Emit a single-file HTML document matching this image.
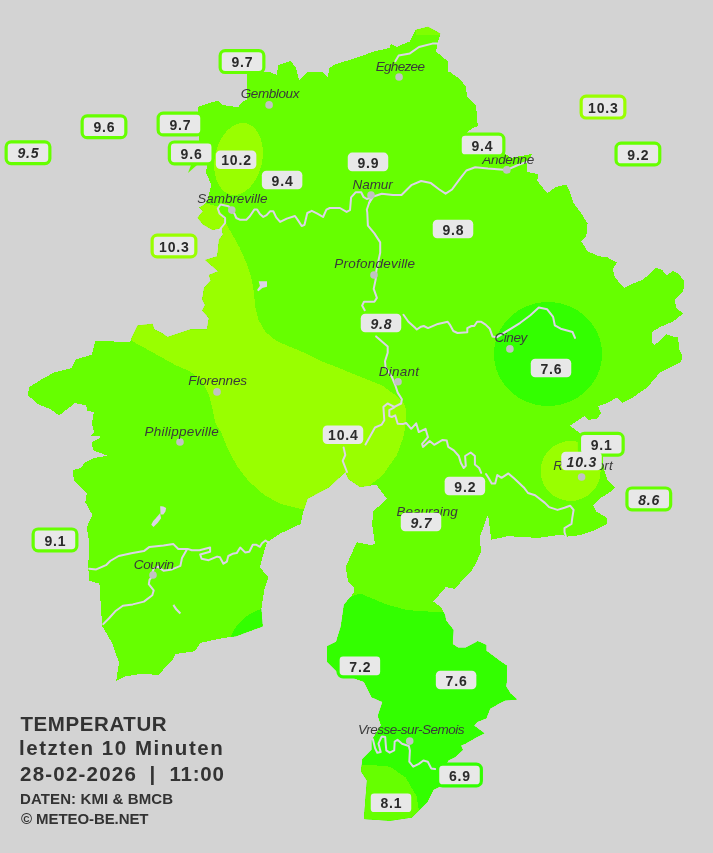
<!DOCTYPE html>
<html><head><meta charset="utf-8"><style>
html,body{margin:0;padding:0;width:713px;height:853px;overflow:hidden;background:#d3d3d3;position:relative}
</style></head><body>
<svg width="713" height="853" viewBox="0 0 713 853" style="position:absolute;left:0;top:0;will-change:transform"><defs><clipPath id="prov"><polygon points="198.0,107.0 212.0,102.0 218.0,101.0 222.0,104.8 238.0,107.3 241.7,102.3 246.5,100.0 246.5,73.0 270.0,72.0 277.0,75.0 278.0,65.0 291.0,61.0 296.0,68.0 299.0,80.0 308.0,72.0 322.0,72.0 328.0,78.0 329.0,68.0 336.0,64.0 356.0,58.0 374.0,51.4 389.8,48.0 391.0,43.6 396.5,47.0 410.0,41.3 415.6,30.0 428.0,26.7 440.3,33.5 438.0,42.4 435.8,51.4 448.0,61.5 448.0,71.6 450.0,72.0 461.0,80.0 466.0,87.0 467.0,97.0 476.0,105.0 477.8,126.0 471.5,128.8 466.0,133.0 490.0,148.0 504.3,152.8 510.6,157.9 532.0,154.0 527.0,163.0 527.0,171.8 538.4,174.3 537.1,180.6 547.2,193.2 556.0,187.0 566.1,184.4 570.0,192.0 573.7,203.3 581.3,213.4 587.6,223.5 586.3,236.1 581.3,241.2 587.6,251.3 599.0,256.3 607.4,257.4 616.9,262.7 612.7,269.0 614.8,277.4 624.3,288.0 632.7,283.7 643.3,279.5 655.9,267.9 662.2,270.0 666.5,275.3 672.8,271.1 678.1,273.2 684.4,281.6 683.3,291.1 674.9,299.6 676.0,308.0 683.3,313.3 672.8,321.7 660.1,327.0 651.7,332.2 651.7,342.8 654.9,344.9 666.5,334.4 672.8,336.5 678.1,336.5 679.1,349.1 682.3,355.4 681.2,361.8 668.6,368.1 660.1,372.3 647.5,387.1 632.7,397.6 622.2,402.9 616.9,397.6 605.3,404.0 597.9,406.0 601.1,413.4 596.9,418.7 588.4,419.8 584.3,416.3 570.0,425.8 575.6,429.8 590.0,442.0 602.5,456.0 604.1,470.2 607.3,479.7 615.2,487.6 612.0,490.8 607.3,494.0 599.4,498.7 593.0,505.0 596.2,511.4 604.1,516.1 607.3,519.3 606.5,524.1 594.6,530.4 580.3,535.2 566.1,536.7 562.0,534.5 538.4,537.9 508.0,536.2 491.3,539.6 488.0,514.3 479.5,537.9 481.2,551.4 476.0,563.0 471.0,571.6 461.0,581.7 455.0,589.0 445.8,587.0 433.4,601.6 441.3,607.5 445.0,615.0 446.0,620.6 453.5,630.0 452.5,644.0 458.1,647.8 465.6,647.8 477.8,641.3 486.3,645.0 486.3,650.7 501.3,661.9 506.9,665.7 506.9,680.7 506.0,686.3 510.7,693.8 517.2,699.4 505.0,700.4 499.4,703.2 490.0,708.8 486.3,718.2 476.9,722.0 474.1,725.7 484.4,733.2 476.9,737.0 465.6,743.5 461.0,745.4 462.8,750.1 454.4,757.6 448.8,760.0 442.0,770.0 439.6,786.7 433.4,789.8 427.2,802.2 411.8,817.6 390.2,820.7 364.0,819.0 365.5,799.0 367.0,780.6 361.0,771.3 362.5,759.0 371.7,749.7 371.7,740.4 381.0,725.0 377.9,715.8 382.5,701.9 371.7,697.2 364.0,681.8 337.8,672.6 327.0,661.8 327.0,646.3 336.2,641.7 340.9,626.3 344.0,604.7 354.0,592.7 354.0,587.0 348.3,581.5 345.5,567.4 356.7,542.2 370.7,545.0 375.0,544.0 372.0,524.0 373.5,511.0 387.0,499.0 376.4,484.7 360.0,487.0 348.3,479.0 345.5,472.0 328.7,487.5 307.6,498.7 303.4,511.3 300.6,524.0 279.6,533.8 267.0,542.2 262.7,556.2 260.0,567.4 268.4,577.3 264.2,590.0 261.3,609.5 262.7,626.4 236.1,636.2 220.0,638.6 200.6,642.8 195.0,651.2 175.3,654.0 172.5,659.7 158.4,675.0 141.6,673.7 124.7,676.5 116.2,680.8 119.0,662.5 112.0,642.8 102.2,626.0 99.4,583.7 89.5,580.9 88.1,566.9 89.5,544.4 86.7,527.5 92.3,514.8 85.3,502.2 86.7,493.7 74.0,481.0 72.7,470.0 80.6,468.1 85.0,462.5 94.0,458.0 107.5,455.8 93.0,450.2 91.8,442.3 101.9,436.7 90.7,435.6 94.0,432.2 91.8,423.2 94.0,412.0 87.3,410.9 86.2,405.3 75.0,403.0 59.3,415.4 49.2,408.6 38.0,404.2 27.9,395.2 29.0,387.3 41.3,379.5 53.7,372.7 71.6,368.2 76.1,359.3 91.8,354.8 95.2,341.3 110.9,341.3 130.0,342.4 131.1,339.0 137.5,325.6 152.5,323.8 154.4,329.4 161.9,333.0 167.5,336.9 190.0,329.4 206.9,329.4 208.8,318.0 202.2,310.6 205.0,305.0 202.2,299.4 204.0,288.0 210.6,280.6 208.8,275.0 218.1,271.3 205.0,260.0 217.2,256.3 219.0,239.4 222.8,234.7 221.9,228.0 212.5,230.0 203.0,224.4 197.5,217.8 203.0,211.0 199.4,207.5 205.0,204.0 207.8,199.0 211.3,185.0 206.0,172.6 207.0,165.6 200.0,150.0 199.0,135.7 198.0,114.6"/></clipPath></defs><polygon points="198.0,107.0 212.0,102.0 218.0,101.0 222.0,104.8 238.0,107.3 241.7,102.3 246.5,100.0 246.5,73.0 270.0,72.0 277.0,75.0 278.0,65.0 291.0,61.0 296.0,68.0 299.0,80.0 308.0,72.0 322.0,72.0 328.0,78.0 329.0,68.0 336.0,64.0 356.0,58.0 374.0,51.4 389.8,48.0 391.0,43.6 396.5,47.0 410.0,41.3 415.6,30.0 428.0,26.7 440.3,33.5 438.0,42.4 435.8,51.4 448.0,61.5 448.0,71.6 450.0,72.0 461.0,80.0 466.0,87.0 467.0,97.0 476.0,105.0 477.8,126.0 471.5,128.8 466.0,133.0 490.0,148.0 504.3,152.8 510.6,157.9 532.0,154.0 527.0,163.0 527.0,171.8 538.4,174.3 537.1,180.6 547.2,193.2 556.0,187.0 566.1,184.4 570.0,192.0 573.7,203.3 581.3,213.4 587.6,223.5 586.3,236.1 581.3,241.2 587.6,251.3 599.0,256.3 607.4,257.4 616.9,262.7 612.7,269.0 614.8,277.4 624.3,288.0 632.7,283.7 643.3,279.5 655.9,267.9 662.2,270.0 666.5,275.3 672.8,271.1 678.1,273.2 684.4,281.6 683.3,291.1 674.9,299.6 676.0,308.0 683.3,313.3 672.8,321.7 660.1,327.0 651.7,332.2 651.7,342.8 654.9,344.9 666.5,334.4 672.8,336.5 678.1,336.5 679.1,349.1 682.3,355.4 681.2,361.8 668.6,368.1 660.1,372.3 647.5,387.1 632.7,397.6 622.2,402.9 616.9,397.6 605.3,404.0 597.9,406.0 601.1,413.4 596.9,418.7 588.4,419.8 584.3,416.3 570.0,425.8 575.6,429.8 590.0,442.0 602.5,456.0 604.1,470.2 607.3,479.7 615.2,487.6 612.0,490.8 607.3,494.0 599.4,498.7 593.0,505.0 596.2,511.4 604.1,516.1 607.3,519.3 606.5,524.1 594.6,530.4 580.3,535.2 566.1,536.7 562.0,534.5 538.4,537.9 508.0,536.2 491.3,539.6 488.0,514.3 479.5,537.9 481.2,551.4 476.0,563.0 471.0,571.6 461.0,581.7 455.0,589.0 445.8,587.0 433.4,601.6 441.3,607.5 445.0,615.0 446.0,620.6 453.5,630.0 452.5,644.0 458.1,647.8 465.6,647.8 477.8,641.3 486.3,645.0 486.3,650.7 501.3,661.9 506.9,665.7 506.9,680.7 506.0,686.3 510.7,693.8 517.2,699.4 505.0,700.4 499.4,703.2 490.0,708.8 486.3,718.2 476.9,722.0 474.1,725.7 484.4,733.2 476.9,737.0 465.6,743.5 461.0,745.4 462.8,750.1 454.4,757.6 448.8,760.0 442.0,770.0 439.6,786.7 433.4,789.8 427.2,802.2 411.8,817.6 390.2,820.7 364.0,819.0 365.5,799.0 367.0,780.6 361.0,771.3 362.5,759.0 371.7,749.7 371.7,740.4 381.0,725.0 377.9,715.8 382.5,701.9 371.7,697.2 364.0,681.8 337.8,672.6 327.0,661.8 327.0,646.3 336.2,641.7 340.9,626.3 344.0,604.7 354.0,592.7 354.0,587.0 348.3,581.5 345.5,567.4 356.7,542.2 370.7,545.0 375.0,544.0 372.0,524.0 373.5,511.0 387.0,499.0 376.4,484.7 360.0,487.0 348.3,479.0 345.5,472.0 328.7,487.5 307.6,498.7 303.4,511.3 300.6,524.0 279.6,533.8 267.0,542.2 262.7,556.2 260.0,567.4 268.4,577.3 264.2,590.0 261.3,609.5 262.7,626.4 236.1,636.2 220.0,638.6 200.6,642.8 195.0,651.2 175.3,654.0 172.5,659.7 158.4,675.0 141.6,673.7 124.7,676.5 116.2,680.8 119.0,662.5 112.0,642.8 102.2,626.0 99.4,583.7 89.5,580.9 88.1,566.9 89.5,544.4 86.7,527.5 92.3,514.8 85.3,502.2 86.7,493.7 74.0,481.0 72.7,470.0 80.6,468.1 85.0,462.5 94.0,458.0 107.5,455.8 93.0,450.2 91.8,442.3 101.9,436.7 90.7,435.6 94.0,432.2 91.8,423.2 94.0,412.0 87.3,410.9 86.2,405.3 75.0,403.0 59.3,415.4 49.2,408.6 38.0,404.2 27.9,395.2 29.0,387.3 41.3,379.5 53.7,372.7 71.6,368.2 76.1,359.3 91.8,354.8 95.2,341.3 110.9,341.3 130.0,342.4 131.1,339.0 137.5,325.6 152.5,323.8 154.4,329.4 161.9,333.0 167.5,336.9 190.0,329.4 206.9,329.4 208.8,318.0 202.2,310.6 205.0,305.0 202.2,299.4 204.0,288.0 210.6,280.6 208.8,275.0 218.1,271.3 205.0,260.0 217.2,256.3 219.0,239.4 222.8,234.7 221.9,228.0 212.5,230.0 203.0,224.4 197.5,217.8 203.0,211.0 199.4,207.5 205.0,204.0 207.8,199.0 211.3,185.0 206.0,172.6 207.0,165.6 200.0,150.0 199.0,135.7 198.0,114.6" fill="#66ff00" shape-rendering="crispEdges"/><polygon points="188.0,173.0 191.0,165.0 197.0,165.0" fill="#66ff00"/><g clip-path="url(#prov)" shape-rendering="crispEdges"><polygon points="150.0,195.0 205.1,203.3 217.8,206.5 224.9,221.6 231.5,233.0 239.7,247.8 246.3,262.6 251.2,277.4 253.7,290.6 255.3,307.0 258.6,320.1 265.2,331.6 275.8,340.6 289.0,346.4 305.4,353.1 320.9,360.9 336.3,367.0 351.7,373.2 367.2,379.4 382.6,385.6 395.2,395.0 403.6,402.7 406.1,410.2 405.3,427.1 402.8,438.9 396.9,455.0 382.4,475.6 370.0,485.0 355.0,500.0 320.0,512.0 299.4,508.5 279.8,503.6 264.1,494.8 248.4,481.0 236.6,465.3 228.2,449.8 221.5,433.0 215.7,423.9 212.4,408.8 209.0,395.3 202.3,381.8 190.5,371.7 175.3,365.0 132.0,341.0 100.0,300.0 120.0,195.0" fill="#99ff00"/><ellipse cx="238.5" cy="159" rx="23.7" ry="36.5" transform="rotate(12 238.5 159)" fill="#99ff00"/><circle cx="570.6" cy="471" r="30" fill="#99ff00"/><polygon points="416,26 441,26 441,35 416,35" fill="#80ff00"/><ellipse cx="548" cy="354" rx="54" ry="52" fill="#33ff00"/><polygon points="320.0,610.0 340.0,601.0 360.0,593.4 387.0,604.7 407.0,610.0 418.0,610.9 442.7,612.4 470.0,616.0 560.0,620.0 560.0,850.0 300.0,850.0" fill="#33ff00"/><circle cx="275" cy="655" r="48" fill="#33ff00"/><polygon points="350.0,770.0 361.0,765.0 371.7,765.0 390.2,766.7 405.6,777.5 416.5,796.0 419.5,814.5 421.0,840.0 350.0,840.0" fill="#66ff00"/></g><polyline points="219.5,230.0 225.1,223.0 225.1,218.0 219.5,213.5 217.8,208.5 220.6,204.5 228.5,206.2 231.8,210.1 234.6,214.0 236.3,218.0 239.7,219.7 246.4,219.7 249.8,216.3 254.3,209.6 257.1,209.6 259.9,214.0 263.3,216.9 266.6,215.2 270.0,211.3 273.3,211.3 276.2,217.4 280.1,221.9 286.8,218.6 295.0,216.0 298.4,220.9 301.7,226.0 304.5,224.8 307.3,213.0 311.8,210.8 317.4,213.6 323.1,217.0 326.4,209.7 329.8,208.0 339.9,208.0 346.6,211.9 350.0,210.2 351.1,197.3 355.6,192.3 361.2,192.3 363.4,196.8 366.8,199.0 371.3,197.3" fill="none" stroke="#dcd4e6" stroke-width="2" stroke-linejoin="round" stroke-linecap="round"/><polyline points="369.1,203.0 373.4,196.5 381.8,193.7 393.0,195.0 401.5,195.0 411.3,185.2 421.1,181.0 430.9,183.1 439.3,189.5 445.6,193.7 452.0,189.5 460.4,178.2 466.4,170.5 475.2,167.3 487.9,168.6 506.8,169.9 518.0,165.0 530.8,160.4" fill="none" stroke="#dcd4e6" stroke-width="2" stroke-linejoin="round" stroke-linecap="round"/><polyline points="371.3,197.3 369.1,203.0 366.8,209.7 367.3,212.7 367.9,225.6 374.4,233.4 380.2,242.4 380.2,252.7 378.2,261.8 376.3,270.8 375.6,279.8 373.7,288.9 376.9,297.9 374.4,301.8 364.0,301.8 362.1,305.6 364.7,310.2" fill="none" stroke="#dcd4e6" stroke-width="2" stroke-linejoin="round" stroke-linecap="round"/><polyline points="376.1,336.4 387.7,346.4 387.7,352.7 385.0,361.2 385.6,367.5 391.9,377.0 395.2,385.0 397.7,392.6 401.9,399.3 401.1,403.5 394.4,406.9 387.6,403.5 383.4,406.9 384.3,420.3 381.7,424.6 375.0,427.5 365.5,444.5" fill="none" stroke="#dcd4e6" stroke-width="2" stroke-linejoin="round" stroke-linecap="round"/><polyline points="343.6,447.4 345.3,455.0 342.7,460.9 347.0,472.0" fill="none" stroke="#dcd4e6" stroke-width="2" stroke-linejoin="round" stroke-linecap="round"/><polyline points="394.4,407.3 389.3,410.2 389.3,416.1 391.8,417.0 395.2,415.3 397.7,423.7 402.8,424.1 406.1,422.9 411.2,428.8 416.2,423.3 418.8,432.1 425.5,428.8 428.0,437.2 422.1,443.9 423.0,446.9 429.7,441.0 434.2,444.8 442.6,439.9 446.8,440.6 448.2,446.9 453.8,450.4 458.8,456.0 460.9,463.0 463.7,468.0 465.8,465.9 465.1,456.0 470.7,452.5 474.9,456.0 474.9,464.5 479.1,468.0 481.2,472.9" fill="none" stroke="#dcd4e6" stroke-width="2" stroke-linejoin="round" stroke-linecap="round"/><polyline points="486.0,474.0 488.9,478.5 491.7,483.4 495.2,483.4 497.3,475.0 501.5,477.8 508.4,473.4 514.0,478.3 523.8,487.4 528.0,493.0 535.1,495.2 544.9,502.9 549.1,507.1 557.5,509.9 564.5,507.8 570.1,505.7 573.6,509.9 572.2,518.3 571.5,523.9 564.5,528.1 564.5,532.3 565.9,536.5" fill="none" stroke="#dcd4e6" stroke-width="2" stroke-linejoin="round" stroke-linecap="round"/><polyline points="403.5,314.8 408.4,321.8 415.4,328.1 416.8,329.5 421.0,326.7 423.8,326.0 428.0,328.1 437.9,323.9 447.7,321.8 449.8,324.6 453.3,331.0 457.5,333.0 467.3,332.3 467.3,328.1 471.5,326.0 474.3,326.0 477.1,321.8 481.3,321.8 485.6,324.6 489.8,328.8 492.6,336.6 496.8,337.3 506.8,331.2 520.3,322.8 530.4,315.2 538.8,307.6 547.2,309.3 553.1,316.9 554.8,325.3 560.7,328.7 572.5,332.0 575.0,337.9" fill="none" stroke="#dcd4e6" stroke-width="2" stroke-linejoin="round" stroke-linecap="round"/><polyline points="395.3,61.2 398.7,55.6 409.9,53.4 419.0,47.0 432.4,43.6 438.0,43.6" fill="none" stroke="#dcd4e6" stroke-width="2" stroke-linejoin="round" stroke-linecap="round"/><polyline points="89.2,568.7 96.2,569.4 106.0,565.2 110.2,561.0 118.7,556.0 131.3,553.2 143.9,551.1 149.5,546.9 163.5,545.5 173.4,544.1 178.3,549.0 185.0,549.0 187.6,548.9 191.8,550.3 199.5,550.3 210.1,547.5 210.1,551.7 200.2,554.5 201.6,558.8 208.7,560.2 217.1,556.6 219.9,557.3 223.4,563.7 226.9,561.6 228.3,556.0 232.5,553.8 236.7,553.1 240.2,547.5 245.1,552.4 249.3,551.7 252.8,544.7 256.0,544.7 259.9,546.8 262.0,543.3 265.5,540.5 268.3,542.6" fill="none" stroke="#dcd4e6" stroke-width="2" stroke-linejoin="round" stroke-linecap="round"/><polyline points="186.9,549.6 182.0,558.1 180.4,565.9 172.0,569.4 163.5,570.8 157.9,566.6 153.7,568.7 152.3,572.9 153.0,575.0 149.5,579.9 148.8,584.1 153.7,590.4 152.3,595.3 143.9,601.6 132.7,604.4 122.9,605.8 115.9,610.7 108.8,618.5 103.2,624.1" fill="none" stroke="#dcd4e6" stroke-width="2" stroke-linejoin="round" stroke-linecap="round"/><polyline points="372.9,739.2 375.1,748.2 377.3,752.7 380.7,752.1 378.5,743.7 381.8,736.4 385.2,737.0 385.8,744.8 386.3,750.4 389.7,752.7 394.2,750.4 394.7,741.5 397.5,739.8 402.0,743.7 408.8,746.0 409.9,750.4 409.3,761.7 413.2,766.7 418.9,763.9 423.4,760.5 427.8,761.7 431.2,768.4 435.1,769.0" fill="none" stroke="#dcd4e6" stroke-width="2" stroke-linejoin="round" stroke-linecap="round"/><polygon points="257.8,290.6 261.0,286.0 260.0,282.3 266.0,282.3 266.0,286.0 262.0,287.0" fill="#dcd4e6" stroke="#dcd4e6" stroke-width="2"/><polygon points="152.5,524.5 154.0,521.5 156.5,519.0 159.5,515.5 160.0,518.0 157.0,522.0 153.5,525.5" fill="#dcd4e6" stroke="#dcd4e6" stroke-width="2"/><polygon points="161.2,507.3 163.0,507.5 165.0,508.5 164.5,511.0 162.8,513.5 161.5,513.5" fill="#dcd4e6" stroke="#dcd4e6" stroke-width="2"/><polygon points="173.4,605.0 176.0,609.0 180.4,613.5 177.0,610.0" fill="#dcd4e6" stroke="#dcd4e6" stroke-width="2"/><circle cx="269.1" cy="104.9" r="3.8" fill="#c2c2c2"/><circle cx="399.1" cy="77" r="3.8" fill="#c2c2c2"/><circle cx="506.8" cy="169.9" r="3.8" fill="#c2c2c2"/><circle cx="231.8" cy="210.1" r="3.8" fill="#c2c2c2"/><circle cx="371" cy="195.1" r="3.8" fill="#c2c2c2"/><circle cx="374" cy="275" r="3.8" fill="#c2c2c2"/><circle cx="509.9" cy="348.9" r="3.8" fill="#c2c2c2"/><circle cx="398" cy="381.7" r="3.8" fill="#c2c2c2"/><circle cx="217" cy="391.9" r="3.8" fill="#c2c2c2"/><circle cx="180" cy="442" r="3.8" fill="#c2c2c2"/><circle cx="421" cy="520" r="3.8" fill="#c2c2c2"/><circle cx="581.6" cy="477" r="3.8" fill="#c2c2c2"/><circle cx="153" cy="575" r="3.8" fill="#c2c2c2"/><circle cx="409.7" cy="741.1" r="3.8" fill="#c2c2c2"/><text x="240.7" y="98.2" font-family="Liberation Sans" font-style="italic" font-size="13.5" textLength="58.7" lengthAdjust="spacing" fill="#3a3a3a">Gembloux</text><text x="375.7" y="70.5" font-family="Liberation Sans" font-style="italic" font-size="13.5" textLength="49.2" lengthAdjust="spacing" fill="#3a3a3a">Eghezee</text><text x="482.3" y="163.8" font-family="Liberation Sans" font-style="italic" font-size="13.5" textLength="52.0" lengthAdjust="spacing" fill="#3a3a3a">Andenne</text><text x="197.3" y="202.9" font-family="Liberation Sans" font-style="italic" font-size="13.5" textLength="70.1" lengthAdjust="spacing" fill="#3a3a3a">Sambreville</text><text x="352.5" y="188.8" font-family="Liberation Sans" font-style="italic" font-size="13.5" textLength="40.3" lengthAdjust="spacing" fill="#3a3a3a">Namur</text><text x="334.3" y="268.2" font-family="Liberation Sans" font-style="italic" font-size="13.5" textLength="80.8" lengthAdjust="spacing" fill="#3a3a3a">Profondeville</text><text x="494.5" y="341.5" font-family="Liberation Sans" font-style="italic" font-size="13.5" textLength="32.7" lengthAdjust="spacing" fill="#3a3a3a">Ciney</text><text x="378.8" y="375.6" font-family="Liberation Sans" font-style="italic" font-size="13.5" textLength="40.2" lengthAdjust="spacing" fill="#3a3a3a">Dinant</text><text x="188.3" y="385.3" font-family="Liberation Sans" font-style="italic" font-size="13.5" textLength="58.7" lengthAdjust="spacing" fill="#3a3a3a">Florennes</text><text x="144.5" y="435.6" font-family="Liberation Sans" font-style="italic" font-size="13.5" textLength="74.3" lengthAdjust="spacing" fill="#3a3a3a">Philippeville</text><text x="396.6" y="516.3" font-family="Liberation Sans" font-style="italic" font-size="13.5" textLength="61.1" lengthAdjust="spacing" fill="#3a3a3a">Beauraing</text><text x="553.2" y="470.2" font-family="Liberation Sans" font-style="italic" font-size="13.5" textLength="59.5" lengthAdjust="spacing" fill="#3a3a3a">Rochefort</text><text x="133.8" y="568.7" font-family="Liberation Sans" font-style="italic" font-size="13.5" textLength="40.3" lengthAdjust="spacing" fill="#3a3a3a">Couvin</text><text x="357.9" y="734.4" font-family="Liberation Sans" font-style="italic" font-size="13.5" textLength="106.7" lengthAdjust="spacing" fill="#3a3a3a">Vresse-sur-Semois</text><rect x="220.15" y="50.70" width="43.70" height="21.80" rx="5" fill="#e8e8e8" stroke="#66ff00" stroke-width="3.2"/><text x="242.42" y="67.2" text-anchor="middle" font-family="Liberation Sans" font-weight="bold" font-size="14" letter-spacing="0.85" fill="#2b2b2b">9.7</text><rect x="82.15" y="115.90" width="43.70" height="21.80" rx="5" fill="#e8e8e8" stroke="#66ff00" stroke-width="3.2"/><text x="104.42" y="132.4" text-anchor="middle" font-family="Liberation Sans" font-weight="bold" font-size="14" letter-spacing="0.85" fill="#2b2b2b">9.6</text><rect x="6.15" y="141.80" width="43.70" height="21.80" rx="5" fill="#e8e8e8" stroke="#66ff00" stroke-width="3.2"/><text x="28.42" y="158.3" text-anchor="middle" font-family="Liberation Sans" font-weight="bold" font-size="14" letter-spacing="0.85" font-style="italic" fill="#2b2b2b">9.5</text><rect x="158.15" y="113.10" width="43.70" height="21.80" rx="5" fill="#e8e8e8" stroke="#66ff00" stroke-width="3.2"/><text x="180.42" y="129.6" text-anchor="middle" font-family="Liberation Sans" font-weight="bold" font-size="14" letter-spacing="0.85" fill="#2b2b2b">9.7</text><rect x="169.35" y="142.00" width="43.70" height="21.80" rx="5" fill="#e8e8e8" stroke="#66ff00" stroke-width="3.2"/><text x="191.62" y="158.5" text-anchor="middle" font-family="Liberation Sans" font-weight="bold" font-size="14" letter-spacing="0.85" fill="#2b2b2b">9.6</text><rect x="152.15" y="235.10" width="43.70" height="21.80" rx="5" fill="#e8e8e8" stroke="#99ff00" stroke-width="3.2"/><text x="174.42" y="251.6" text-anchor="middle" font-family="Liberation Sans" font-weight="bold" font-size="14" letter-spacing="0.85" fill="#2b2b2b">10.3</text><rect x="581.15" y="96.20" width="43.70" height="21.80" rx="5" fill="#e8e8e8" stroke="#99ff00" stroke-width="3.2"/><text x="603.42" y="112.7" text-anchor="middle" font-family="Liberation Sans" font-weight="bold" font-size="14" letter-spacing="0.85" fill="#2b2b2b">10.3</text><rect x="616.05" y="143.10" width="43.70" height="21.80" rx="5" fill="#e8e8e8" stroke="#66ff00" stroke-width="3.2"/><text x="638.32" y="159.6" text-anchor="middle" font-family="Liberation Sans" font-weight="bold" font-size="14" letter-spacing="0.85" fill="#2b2b2b">9.2</text><rect x="460.15" y="134.10" width="43.70" height="21.80" rx="5" fill="#e8e8e8" stroke="#66ff00" stroke-width="3.2"/><text x="482.42" y="150.6" text-anchor="middle" font-family="Liberation Sans" font-weight="bold" font-size="14" letter-spacing="0.85" fill="#2b2b2b">9.4</text><rect x="579.45" y="433.30" width="43.70" height="21.80" rx="5" fill="#e8e8e8" stroke="#66ff00" stroke-width="3.2"/><text x="601.72" y="449.8" text-anchor="middle" font-family="Liberation Sans" font-weight="bold" font-size="14" letter-spacing="0.85" fill="#2b2b2b">9.1</text><rect x="626.95" y="488.00" width="43.70" height="21.80" rx="5" fill="#e8e8e8" stroke="#66ff00" stroke-width="3.2"/><text x="649.22" y="504.5" text-anchor="middle" font-family="Liberation Sans" font-weight="bold" font-size="14" letter-spacing="0.85" font-style="italic" fill="#2b2b2b">8.6</text><rect x="33.15" y="529.00" width="43.70" height="21.80" rx="5" fill="#e8e8e8" stroke="#66ff00" stroke-width="3.2"/><text x="55.42" y="545.5" text-anchor="middle" font-family="Liberation Sans" font-weight="bold" font-size="14" letter-spacing="0.85" fill="#2b2b2b">9.1</text><rect x="338.05" y="655.00" width="43.70" height="21.80" rx="5" fill="#e8e8e8" stroke="#33ff00" stroke-width="3.2"/><text x="360.32" y="671.5" text-anchor="middle" font-family="Liberation Sans" font-weight="bold" font-size="14" letter-spacing="0.85" fill="#2b2b2b">7.2</text><rect x="437.65" y="764.10" width="43.70" height="21.80" rx="5" fill="#e8e8e8" stroke="#33ff00" stroke-width="3.2"/><text x="459.92" y="780.6" text-anchor="middle" font-family="Liberation Sans" font-weight="bold" font-size="14" letter-spacing="0.85" fill="#2b2b2b">6.9</text><rect x="369.15" y="791.90" width="43.70" height="21.80" rx="5" fill="#e8e8e8" stroke="#66ff00" stroke-width="3.2"/><text x="391.42" y="808.4" text-anchor="middle" font-family="Liberation Sans" font-weight="bold" font-size="14" letter-spacing="0.85" fill="#2b2b2b">8.1</text><rect x="215.85" y="150.40" width="40.5" height="18.6" rx="4.5" fill="#e8e8e8"/><text x="236.52" y="165.3" text-anchor="middle" font-family="Liberation Sans" font-weight="bold" font-size="14" letter-spacing="0.85" fill="#2b2b2b">10.2</text><rect x="261.85" y="170.70" width="40.5" height="18.6" rx="4.5" fill="#e8e8e8"/><text x="282.52" y="185.6" text-anchor="middle" font-family="Liberation Sans" font-weight="bold" font-size="14" letter-spacing="0.85" fill="#2b2b2b">9.4</text><rect x="347.75" y="152.60" width="40.5" height="18.6" rx="4.5" fill="#e8e8e8"/><text x="368.42" y="167.5" text-anchor="middle" font-family="Liberation Sans" font-weight="bold" font-size="14" letter-spacing="0.85" fill="#2b2b2b">9.9</text><rect x="432.75" y="219.70" width="40.5" height="18.6" rx="4.5" fill="#e8e8e8"/><text x="453.42" y="234.6" text-anchor="middle" font-family="Liberation Sans" font-weight="bold" font-size="14" letter-spacing="0.85" fill="#2b2b2b">9.8</text><rect x="360.75" y="313.70" width="40.5" height="18.6" rx="4.5" fill="#e8e8e8"/><text x="381.42" y="328.6" text-anchor="middle" font-family="Liberation Sans" font-weight="bold" font-size="14" letter-spacing="0.85" font-style="italic" fill="#2b2b2b">9.8</text><rect x="530.75" y="358.70" width="40.5" height="18.6" rx="4.5" fill="#e8e8e8"/><text x="551.42" y="373.6" text-anchor="middle" font-family="Liberation Sans" font-weight="bold" font-size="14" letter-spacing="0.85" fill="#2b2b2b">7.6</text><rect x="322.75" y="425.50" width="40.5" height="18.6" rx="4.5" fill="#e8e8e8"/><text x="343.42" y="440.4" text-anchor="middle" font-family="Liberation Sans" font-weight="bold" font-size="14" letter-spacing="0.85" fill="#2b2b2b">10.4</text><rect x="444.65" y="476.70" width="40.5" height="18.6" rx="4.5" fill="#e8e8e8"/><text x="465.32" y="491.6" text-anchor="middle" font-family="Liberation Sans" font-weight="bold" font-size="14" letter-spacing="0.85" fill="#2b2b2b">9.2</text><rect x="400.75" y="512.70" width="40.5" height="18.6" rx="4.5" fill="#e8e8e8"/><text x="421.42" y="527.6" text-anchor="middle" font-family="Liberation Sans" font-weight="bold" font-size="14" letter-spacing="0.85" font-style="italic" fill="#2b2b2b">9.7</text><rect x="561.25" y="451.70" width="40.5" height="18.6" rx="4.5" fill="#e8e8e8"/><text x="581.92" y="466.6" text-anchor="middle" font-family="Liberation Sans" font-weight="bold" font-size="14" letter-spacing="0.85" font-style="italic" fill="#2b2b2b">10.3</text><rect x="435.85" y="670.70" width="40.5" height="18.6" rx="4.5" fill="#e8e8e8"/><text x="456.52" y="685.6" text-anchor="middle" font-family="Liberation Sans" font-weight="bold" font-size="14" letter-spacing="0.85" fill="#2b2b2b">7.6</text></svg>
<svg width="713" height="853" style="position:absolute;left:0;top:0;will-change:transform"><text x="20.50" y="730.5" font-family="Liberation Sans" font-weight="bold" font-size="20.5" textLength="146.10" lengthAdjust="spacing" fill="#333333">TEMPERATUR</text><text x="19.00" y="755.3" font-family="Liberation Sans" font-weight="bold" font-size="20.5" textLength="203.70" lengthAdjust="spacing" fill="#333333">letzten 10 Minuten</text><text x="20.00" y="780.6" font-family="Liberation Sans" font-weight="bold" font-size="20.5" textLength="115.90" lengthAdjust="spacing" fill="#333333">28-02-2026</text><text x="149.50" y="780.6" font-family="Liberation Sans" font-weight="bold" font-size="20.5" fill="#333333">|</text><text x="169.50" y="780.6" font-family="Liberation Sans" font-weight="bold" font-size="20.5" textLength="54.30" lengthAdjust="spacing" fill="#333333">11:00</text><text x="20.00" y="804.1" font-family="Liberation Sans" font-weight="bold" font-size="15" textLength="153.10" lengthAdjust="spacing" fill="#333333">DATEN: KMI &amp; BMCB</text><text x="21.00" y="823.6" font-family="Liberation Sans" font-weight="bold" font-size="15" textLength="127.50" lengthAdjust="spacing" fill="#333333">&#169; METEO-BE.NET</text></svg>
</body></html>
